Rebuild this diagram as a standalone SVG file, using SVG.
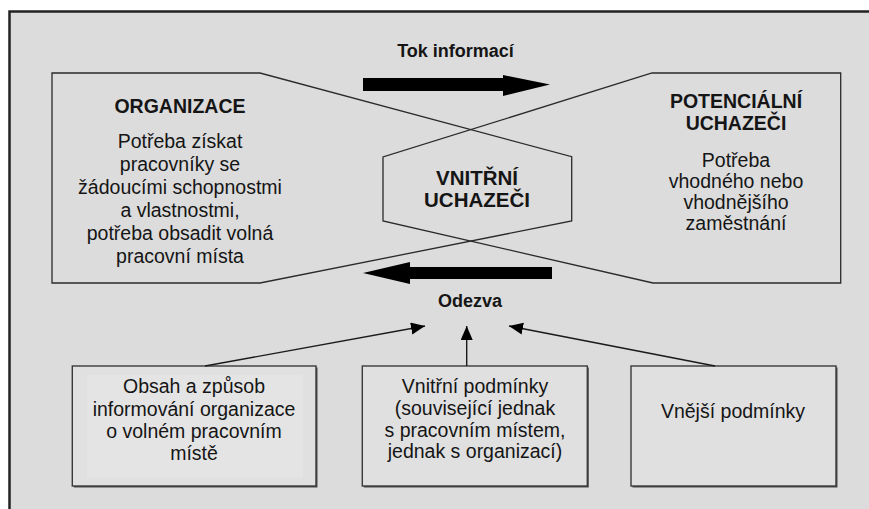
<svg xmlns="http://www.w3.org/2000/svg" width="869" height="509" viewBox="0 0 869 509">
<style>
.t{font-family:"Liberation Sans",Arial,sans-serif;fill:#151515;text-anchor:middle}
.b{font-weight:bold}
.s19{font-size:19.5px}
.s18{font-size:18px}
.s20{font-size:20.5px}
.shape{fill:none;stroke:#2a2a2a;stroke-width:1.3}
.box{fill:#e0e0e0;stroke:#3a3a3a;stroke-width:1.4}
.shadow{fill:#4a4a4a}
.con{stroke:#1a1a1a;stroke-width:1.4;fill:none}
.big{fill:#000}
</style>
<defs>
<marker id="ah" markerUnits="userSpaceOnUse" markerWidth="15" markerHeight="13" refX="14" refY="6" orient="auto">
<path d="M0,0 L14,6 L0,12 z" fill="#000"/>
</marker>
</defs>
<rect x="0" y="0" width="869" height="509" fill="#ffffff"/>
<rect id="frame" x="9.5" y="11.5" width="870" height="510" fill="#dcdcdc" stroke="#222" stroke-width="2.5"/>

<g id="organizace">
<polygon class="shape" points="52,73 260,73 571.7,156.7 571.7,221 260,283 52,283"/>
<text class="t b s19" x="180" y="113">ORGANIZACE</text>
<text class="t s19" x="180" y="148">Potřeba získat</text>
<text class="t s19" x="180" y="171">pracovníky se</text>
<text class="t s19" x="180" y="194">žádoucími schopnostmi</text>
<text class="t s19" x="180" y="217">a vlastnostmi,</text>
<text class="t s19" x="180" y="240">potřeba obsadit volná</text>
<text class="t s19" x="180" y="263">pracovní místa</text>
</g>

<g id="potencialni">
<polygon class="shape" points="840.7,73 652,73 383,157 383,221 653,283 840.7,283"/>
<text class="t b s19" x="736" y="108">POTENCIÁLNÍ</text>
<text class="t b s19" x="736" y="129.5">UCHAZEČI</text>
<text class="t s19" x="736" y="166.5">Potřeba</text>
<text class="t s19" x="736" y="187.5">vhodného nebo</text>
<text class="t s19" x="736" y="209">vhodnějšího</text>
<text class="t s19" x="736" y="230">zaměstnání</text>
</g>

<g id="vnitrni">
<text class="t b s20" x="477" y="185">VNITŘNÍ</text>
<text class="t b s20" x="477" y="206.7">UCHAZEČI</text>
</g>

<g id="tok">
<polygon class="big" points="363,78 503,78 503,75 550,84.5 503,96 503,91 363,91"/>
<text class="t b s18" x="455.5" y="57">Tok informací</text>
</g>

<g id="odezva">
<polygon class="big" points="552,267 410,267 410,262 363,273 410,284 410,279 552,279"/>
<text class="t b s18" x="470" y="306.5">Odezva</text>
</g>

<g id="box1">
<rect class="shadow" x="73.8" y="367.5" width="243.7" height="120"/>
<rect class="box" x="72.3" y="366" width="243.7" height="120"/>
<rect x="87" y="375" width="215.7" height="102.7" fill="#e4e4e4"/>
<text class="t s19" x="194" y="393">Obsah a způsob</text>
<text class="t s19" x="194" y="416">informování organizace</text>
<text class="t s19" x="194" y="438">o volném pracovním</text>
<text class="t s19" x="194" y="460">místě</text>
</g>

<g id="box2">
<rect class="shadow" x="363.8" y="367.5" width="225" height="120"/>
<rect class="box" x="362.3" y="366" width="225" height="120"/>
<text class="t s19" x="475" y="393">Vnitřní podmínky</text>
<text class="t s19" x="475" y="415">(související jednak</text>
<text class="t s19" x="475" y="436.5">s pracovním místem,</text>
<text class="t s19" x="475" y="458">jednak s organizací)</text>
</g>

<g id="box3">
<rect class="shadow" x="632.5" y="367.5" width="205" height="120"/>
<rect class="box" x="631" y="366" width="205" height="120"/>
<text class="t s19" x="733" y="418">Vnější podmínky</text>
</g>

<g id="connectors">
<line class="con" x1="205" y1="366" x2="425" y2="326" marker-end="url(#ah)"/>
<line class="con" x1="466.7" y1="366" x2="466.7" y2="326" marker-end="url(#ah)"/>
<line class="con" x1="715" y1="366" x2="509" y2="326" marker-end="url(#ah)"/>
</g>
</svg>
